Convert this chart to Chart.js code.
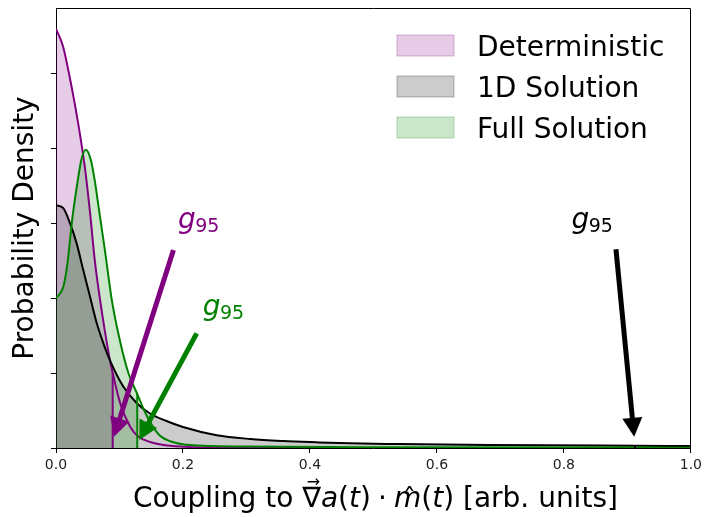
<!DOCTYPE html>
<html>
<head>
<meta charset="utf-8">
<script src="https://cdn.jsdelivr.net/npm/chart.js@4/dist/chart.umd.min.js"></script>
<style>
  html, body { margin: 0; padding: 0; background: #fff; }
  canvas { display: block; }
</style>
</head>
<body>
<canvas id="chart" width="706" height="517"></canvas>
<script>
// ---- data -------------------------------------------------------------
const seriesNames = ['Deterministic', '1D Solution', 'Full Solution'];

// Deterministic coupling density
const detX = [0, 0.011, 0.022, 0.030, 0.038, 0.046, 0.054, 0.061, 0.069, 0.077, 0.085, 0.0893, 0.101, 0.117, 0.13, 0.148, 0.17, 0.195, 0.25, 0.4, 1.0];
const detY = [5.59, 5.36, 4.93, 4.57, 4.17, 3.71, 3.11, 2.51, 2.0, 1.56, 1.17, 1.0, 0.6, 0.28, 0.15, 0.08, 0.04, 0.02, 0.005, 0, 0];

// 1D solution density (long tail)
const oneDX = [0, 0.0115, 0.022, 0.0325, 0.043, 0.0535, 0.064, 0.0745, 0.085, 0.106, 0.127, 0.148, 0.174, 0.2, 0.253, 0.306, 0.358, 0.41, 0.463, 0.54, 0.683, 0.912, 1.0];
const oneDY = [3.24, 3.2, 3.0, 2.73, 2.37, 2.02, 1.67, 1.4, 1.17, 0.82, 0.6, 0.46, 0.36, 0.28, 0.17, 0.12, 0.093, 0.076, 0.062, 0.053, 0.04, 0.03, 0.027];

// Full solution density
const fullX = [0, 0.0115, 0.018, 0.022, 0.026, 0.030, 0.033, 0.040, 0.047, 0.055, 0.061, 0.067, 0.077, 0.088, 0.101, 0.114, 0.128, 0.138, 0.148, 0.163, 0.18, 0.21, 0.3, 0.5, 1.0];
const fullY = [2.0, 2.15, 2.46, 2.77, 3.08, 3.33, 3.5, 3.85, 3.98, 3.84, 3.57, 3.22, 2.64, 1.97, 1.42, 1.0, 0.72, 0.52, 0.35, 0.17, 0.09, 0.04, 0.02, 0.01, 0.005];

// 95th percentile of each distribution
const g95Values = [0.0893, 0.912, 0.128];

// g95 annotations (data coordinates)
const arrowTailX = [0.185, 0.882, 0.2216];
const arrowTailY = [2.64, 2.65, 1.53];
const arrowTipX  = [0.0913, 0.9107, 0.1312];
const arrowTipY  = [0.15, 0.15, 0.107];
const labelX = [0.192, 0.812, 0.231];
const labelY = [2.93, 2.93, 1.77];

const xTickValues = [0, 0.2, 0.4, 0.6, 0.8, 1.0];
const xTickLabels = ['0.0', '0.2', '0.4', '0.6', '0.8', '1.0'];
const yTickValues = [0, 1, 2, 3, 4, 5];
const yMax = 5.87;

const xTitle = 'Coupling to';
const yTitle = 'Probability Density';

// ---- styling ----------------------------------------------------------
const FONT = '"DejaVu Sans", "Liberation Sans", sans-serif';
const lineColors = ['#800080', '#000000', '#008000'];
const fillColors = ['rgba(128,0,128,0.2)', 'rgba(0,0,0,0.2)', 'rgba(0,128,0,0.2)'];
const curves = [[detX, detY], [oneDX, oneDY], [fullX, fullY]];

// plot frame in canvas pixels
const AREA = { left: 56, top: 8, right: 692, bottom: 448 };

const toPoints = (xs, ys) => xs.map((x, i) => ({ x: x, y: ys[i] }));

const datasets = [];
curves.forEach(([xs, ys], i) => {
  const all = toPoints(xs, ys);
  const g = g95Values[i];
  const under = all.filter(p => p.x <= g);
  const atG = all.find(p => p.x === g).y;
  // shaded area up to g95
  datasets.push({
    label: seriesNames[i], data: under, fill: 'origin',
    backgroundColor: fillColors[i], borderColor: 'rgba(0,0,0,0)', borderWidth: 0,
    pointRadius: 0, cubicInterpolationMode: 'monotone', order: 30 - i
  });
  // full density curve
  datasets.push({
    label: seriesNames[i] + ' curve', data: all, fill: false,
    borderColor: lineColors[i], borderWidth: 2,
    pointRadius: 0, cubicInterpolationMode: 'monotone', order: 20 - i
  });
  // vertical edge at g95
  datasets.push({
    label: seriesNames[i] + ' g95', data: [{ x: g, y: 0 }, { x: g, y: atG }], fill: false,
    borderColor: lineColors[i], borderWidth: 2, pointRadius: 0, tension: 0, order: 10 - i
  });
});

// ---- decorations: frame, arrows, labels, legend, axis titles ----------
function drawArrow(ctx, x0, y0, x1, y1, color) {
  const dx = x1 - x0, dy = y1 - y0;
  const len = Math.hypot(dx, dy);
  const ux = dx / len, uy = dy / len;
  const headLen = 19, headW = 20, shaftW = 5;
  const bx = x1 - ux * headLen, by = y1 - uy * headLen;
  ctx.save();
  ctx.strokeStyle = color; ctx.fillStyle = color;
  ctx.lineWidth = shaftW; ctx.lineCap = 'butt';
  ctx.beginPath(); ctx.moveTo(x0, y0); ctx.lineTo(bx + ux, by + uy); ctx.stroke();
  ctx.beginPath();
  ctx.moveTo(x1, y1);
  ctx.lineTo(bx - uy * headW / 2, by + ux * headW / 2);
  ctx.lineTo(bx + uy * headW / 2, by - ux * headW / 2);
  ctx.closePath(); ctx.fill();
  ctx.restore();
}

function drawG95(ctx, px, py, color) {
  ctx.save();
  ctx.fillStyle = color;
  ctx.textAlign = 'left'; ctx.textBaseline = 'alphabetic';
  ctx.font = 'italic 28px ' + FONT;
  ctx.fillText('g', px, py);
  const w = ctx.measureText('g').width;
  ctx.font = '19px ' + FONT;
  ctx.fillText('95', px + w - 0.5, py + 4);
  ctx.restore();
}

const decorations = {
  id: 'decorations',
  afterDatasetsDraw(chart) {
    const ctx = chart.ctx;
    const a = chart.chartArea;
    const xs = chart.scales.x, ys = chart.scales.y;

    // top and right spines
    ctx.save();
    ctx.strokeStyle = '#000'; ctx.lineWidth = 1;
    ctx.beginPath();
    ctx.moveTo(Math.round(a.left) + 0.5, Math.round(a.top) + 0.5);
    ctx.lineTo(Math.round(a.right) - 0.5, Math.round(a.top) + 0.5);
    ctx.lineTo(Math.round(a.right) - 0.5, Math.round(a.bottom) + 0.5);
    ctx.stroke();
    ctx.restore();

    // g95 arrows and labels
    for (let i = 0; i < 3; i++) {
      drawArrow(ctx,
        xs.getPixelForValue(arrowTailX[i]), ys.getPixelForValue(arrowTailY[i]),
        xs.getPixelForValue(arrowTipX[i]), ys.getPixelForValue(arrowTipY[i]),
        lineColors[i]);
      drawG95(ctx, xs.getPixelForValue(labelX[i]), ys.getPixelForValue(labelY[i]), lineColors[i]);
    }

    // legend
    ctx.save();
    const boxLeft = 397, boxW = 57, boxH = 21, textLeft = 477;
    const baselines = [56, 97, 138];
    ctx.font = '28px ' + FONT;
    ctx.textAlign = 'left'; ctx.textBaseline = 'alphabetic';
    seriesNames.forEach((name, i) => {
      const b = baselines[i];
      ctx.fillStyle = fillColors[i];
      ctx.fillRect(boxLeft, b - boxH, boxW, boxH);
      ctx.strokeStyle = fillColors[i]; ctx.lineWidth = 1.4;
      ctx.strokeRect(boxLeft, b - boxH, boxW, boxH);
      ctx.fillStyle = '#000';
      ctx.fillText(name, textLeft, b);
    });
    ctx.restore();

    // x axis title with math parts
    ctx.save();
    ctx.fillStyle = '#000';
    ctx.textBaseline = 'alphabetic'; ctx.textAlign = 'left';
    const parts = [
      { t: xTitle + ' ', it: false },
      { t: '\u2207', it: false, vec: true },
      { t: 'a', it: true },
      { t: '(', it: false },
      { t: 't', it: true },
      { t: ')', it: false },
      { t: '\u2009\u00B7\u2009', it: false, pad: 1.5 },
      { t: 'm', it: true, hat: true },
      { t: '(', it: false },
      { t: 't', it: true },
      { t: ')', it: false },
      { t: ' [arb. units]', it: false }
    ];
    const fontFor = p => (p.it ? 'italic ' : '') + '28px ' + FONT;
    let total = 0;
    parts.forEach(p => { ctx.font = fontFor(p); p.w = ctx.measureText(p.t).width + (p.pad || 0) * 2; total += p.w; });
    let x = (a.left + a.right) / 2 - total / 2 + 2;
    const base = 507;
    parts.forEach(p => {
      ctx.font = fontFor(p);
      ctx.fillText(p.t, x + (p.pad || 0), base);
      if (p.vec) {
        ctx.font = '16px ' + FONT;
        ctx.textAlign = 'center';
        ctx.fillText('\u2192', x + p.w / 2 + 2, base - 20);
        ctx.textAlign = 'left';
      }
      if (p.hat) {
        ctx.font = '26px ' + FONT;
        ctx.textAlign = 'center';
        ctx.fillText('\u02C6', x + p.w / 2 + 2, base + 1);
        ctx.textAlign = 'left';
      }
      x += p.w;
    });
    ctx.restore();

    // y axis title
    ctx.save();
    ctx.translate(33, 228);
    ctx.rotate(-Math.PI / 2);
    ctx.font = '28px ' + FONT;
    ctx.fillStyle = '#000';
    ctx.textAlign = 'center'; ctx.textBaseline = 'alphabetic';
    ctx.fillText(yTitle, 0, 0);
    ctx.restore();
  }
};

const chart = new Chart(document.getElementById('chart'), {
  type: 'line',
  data: { datasets: datasets },
  options: {
    responsive: false,
    animation: false,
    devicePixelRatio: 1,
    layout: { padding: { left: 0, right: 14, top: 8, bottom: 0 } },
    plugins: { legend: { display: false }, tooltip: { enabled: false } },
    scales: {
      x: {
        type: 'linear', min: 0, max: 1,
        afterBuildTicks: s => { s.ticks = xTickValues.map(v => ({ value: v })); },
        afterFit: s => { s.height = 69; },
        ticks: {
          callback: (v, i) => xTickLabels[i],
          font: { family: FONT, size: 14 }, color: '#222',
          padding: 4, maxRotation: 0, autoSkip: false
        },
        grid: { display: true, drawOnChartArea: false, drawTicks: true, tickLength: 5, color: '#000' },
        border: { display: true, color: '#000', width: 1 }
      },
      y: {
        type: 'linear', min: 0, max: yMax,
        afterBuildTicks: s => { s.ticks = yTickValues.map(v => ({ value: v })); },
        afterFit: s => { s.width = 56; },
        ticks: { display: false },
        grid: { display: true, drawOnChartArea: false, drawTicks: true, tickLength: 5, color: '#000' },
        border: { display: true, color: '#000', width: 1 }
      }
    }
  },
  plugins: [decorations]
});

// nudge the layout padding so the plot frame sits on AREA
for (let k = 0; k < 3; k++) {
  const ca = chart.chartArea;
  const p = chart.options.layout.padding;
  const dTop = AREA.top - ca.top, dRight = ca.right - AREA.right, dBottom = ca.bottom - AREA.bottom;
  if (Math.abs(dTop) < 0.1 && Math.abs(dRight) < 0.1 && Math.abs(dBottom) < 0.1) break;
  p.top += dTop; p.right += dRight; p.bottom += dBottom;
  chart.update('none');
}
</script>
</body>
</html>
